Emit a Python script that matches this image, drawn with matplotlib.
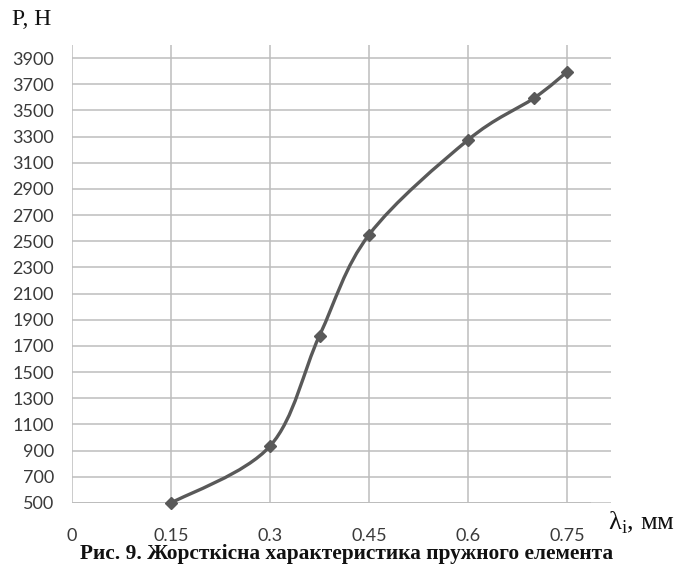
import numpy as np
import matplotlib.pyplot as plt
from matplotlib.path import Path
from matplotlib.patches import PathPatch

# deflection, mm
lam = [0.15, 0.3, 0.375, 0.45, 0.6, 0.7, 0.75]
# force, N
force = [500, 935, 1780, 2550, 3275, 3595, 3795]

x_ticks = [0, 0.15, 0.3, 0.45, 0.6, 0.75]
x_ticklabels = ["0", "0.15", "0.3", "0.45", "0.6", "0.75"]
y_ticks = list(range(500, 4000, 200))

LINE_C = '#595959'
GRID_C = '#bdbdbd'
TEXT_C = '#3a3a3a'


def smooth_path(xs, ys):
    # Excel-like smoothed line: Catmull-Rom segments as cubic Bezier
    p = np.column_stack([xs, ys]).astype(float)
    ext = np.vstack([p[0], p, p[-1]])
    verts = [p[0]]
    codes = [Path.MOVETO]
    for i in range(1, len(ext) - 2):
        p0, p1, p2, p3 = ext[i - 1], ext[i], ext[i + 1], ext[i + 2]
        verts += [p1 + (p2 - p0) / 6, p2 - (p3 - p1) / 6, p2]
        codes += [Path.CURVE4] * 3
    return Path(verts, codes)


fig = plt.figure(figsize=(6.85, 5.71), dpi=100)
ax = fig.add_axes([0.1051, 0.1191, 0.787, 0.802])
ax.set_xlim(0, 0.8167)
ax.set_ylim(500, 4000)

for s in ax.spines.values():
    s.set_visible(False)

ax.set_xticks(x_ticks)
ax.set_xticklabels(x_ticklabels)
ax.set_yticks(y_ticks)
ax.tick_params(length=0, labelsize=13, labelcolor=TEXT_C)
ax.tick_params(axis='x', pad=18)
ax.tick_params(axis='y', pad=13)
for lbl in ax.get_xticklabels() + ax.get_yticklabels():
    lbl.set_family('Lato')

ax.grid(True, color=GRID_C, lw=1.1)
ax.set_axisbelow(True)
ax.axhline(500, xmin=0, xmax=0.961, color=GRID_C, lw=1.4, zorder=1)

ax.add_patch(PathPatch(smooth_path(lam, force), fill=False,
                       ec=LINE_C, lw=2.4, zorder=3, capstyle='round'))
ax.plot(lam, force, ls='none', marker='D', ms=6.2, color=LINE_C,
        mec=LINE_C, zorder=4, clip_on=False)

fig.text(0.017, 0.966, "P, H", family='Liberation Serif', fontsize=17,
         va='center', ha='left', color='#111111')
fig.text(0.887, 0.072, r"λ$_\mathregular{i}$, мм", family='Liberation Serif',
         fontsize=19, va='baseline', ha='left', color='#111111')
fig.text(0.506, 0.029, "Рис. 9. Жорсткісна характеристика пружного елемента",
         family='Liberation Serif', fontweight='bold', fontsize=15.4,
         ha='center', va='center', color='#111111')

fig.savefig('out.png', dpi=100)
